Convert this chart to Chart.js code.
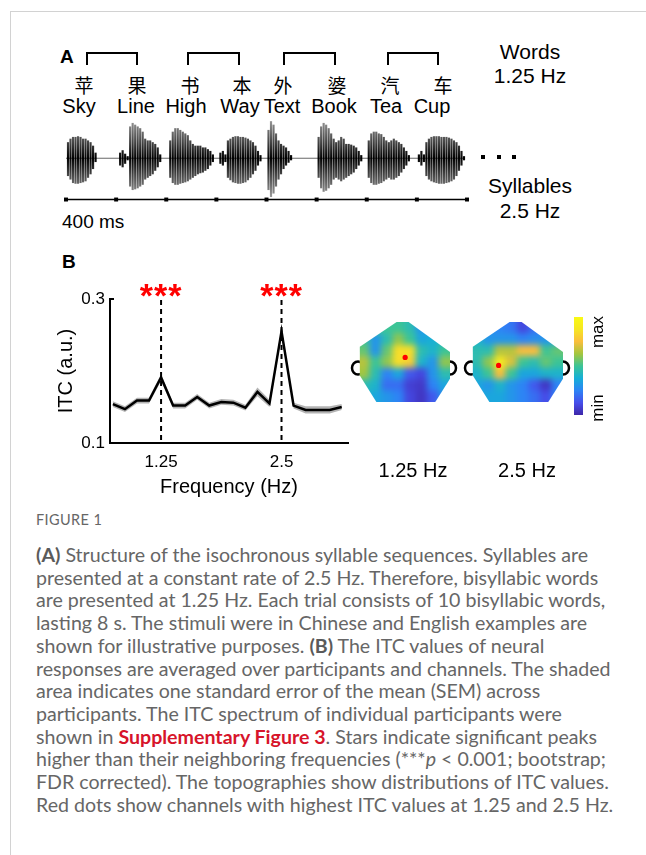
<!DOCTYPE html>
<html>
<head>
<meta charset="utf-8">
<script src="https://cdn.jsdelivr.net/npm/chart.js@4.4.1/dist/chart.umd.min.js"></script>
<style>
html, body { margin: 0; padding: 0; background: #fff; }
body { width: 646px; height: 855px; position: relative; overflow: hidden; font-family: "Liberation Sans", Arial, sans-serif; color: #000; }
.abs { position: absolute; white-space: nowrap; line-height: 1; }
.c { transform: translate(-50%, -50%); }
.frame { position: absolute; left: 10px; top: 11px; width: 700px; height: 900px; border-left: 1.5px solid #d2d2d2; border-top: 1.5px solid #d2d2d2; }
.zh { font-family: "Noto Sans CJK SC", sans-serif; font-size: 19px; }
.en { font-size: 20px; }
.br { position: absolute; box-sizing: border-box; border: 2px solid #000; border-bottom: none; height: 13px; top: 52px; }
.dot { position: absolute; width: 4px; height: 4px; background: #000; top: 155px; }
canvas { position: absolute; }
.cap { position: absolute; left: 36px; top: 544px; font-family: Lato, "Open Sans", sans-serif; font-size: 19.6px; line-height: 22.7px; color: #666; white-space: nowrap; }
.cap b { font-weight: 700; color: #5a5a5a; }
.cap .red { color: #d7142a; font-weight: 700; }
.cbar { position: absolute; left: 574px; top: 317px; width: 9px; height: 98px; }
.rot { transform: translate(-50%, -50%) rotate(-90deg); font-size: 17px; font-family: "Liberation Sans", Arial, sans-serif; }
</style>
</head>
<body>
<div class="frame"></div>

<!-- Panel A -->
<div class="abs" style="left:60px;top:47px;font-size:19px;font-weight:bold;">A</div>
<div class="br" style="left:86px;width:52px;"></div>
<div class="br" style="left:187px;width:53px;"></div>
<div class="br" style="left:283px;width:53px;"></div>
<div class="br" style="left:387px;width:52px;"></div>

<div class="abs c zh" style="left:84px;top:84px;">苹</div>
<div class="abs c zh" style="left:137px;top:84px;">果</div>
<div class="abs c zh" style="left:190px;top:84px;">书</div>
<div class="abs c zh" style="left:242px;top:84px;">本</div>
<div class="abs c zh" style="left:283px;top:84px;">外</div>
<div class="abs c zh" style="left:337px;top:84px;">婆</div>
<div class="abs c zh" style="left:390px;top:84px;">汽</div>
<div class="abs c zh" style="left:443px;top:84px;">车</div>

<div class="abs c en" style="left:79px;top:106px;">Sky</div>
<div class="abs c en" style="left:136px;top:106px;">Line</div>
<div class="abs c en" style="left:186px;top:106px;">High</div>
<div class="abs c en" style="left:240px;top:106px;">Way</div>
<div class="abs c en" style="left:282px;top:106px;">Text</div>
<div class="abs c en" style="left:334px;top:106px;">Book</div>
<div class="abs c en" style="left:386px;top:106px;">Tea</div>
<div class="abs c en" style="left:432px;top:106px;">Cup</div>

<div class="abs c" style="left:530px;top:51px;font-size:21px;">Words</div>
<div class="abs c" style="left:530px;top:75px;font-size:21px;">1.25 Hz</div>
<div class="abs c" style="left:530px;top:185px;font-size:21px;">Syllables</div>
<div class="abs c" style="left:530px;top:210px;font-size:21px;">2.5 Hz</div>
<div class="dot" style="left:481px;"></div>
<div class="dot" style="left:497px;"></div>
<div class="dot" style="left:512px;"></div>
<div class="abs" style="left:62px;top:212px;font-size:19px;">400 ms</div>

<canvas id="wave" width="420" height="98" style="left:56px;top:112px;"></canvas>

<!-- Panel B -->
<div class="abs" style="left:62px;top:252px;font-size:19px;font-weight:bold;">B</div>
<canvas id="itc" width="310" height="229" style="left:50px;top:270px;"></canvas>
<canvas id="topo1" width="118" height="88" style="left:345px;top:318px;"></canvas>
<canvas id="topo2" width="118" height="88" style="left:458px;top:318px;"></canvas>
<div class="cbar" id="cbar"></div>
<div class="abs rot" style="left:597px;top:332px;">max</div>
<div class="abs rot" style="left:597px;top:408px;">min</div>
<div class="abs c" style="left:413px;top:470px;font-size:20px;">1.25 Hz</div>
<div class="abs c" style="left:527px;top:470px;font-size:20px;">2.5 Hz</div>

<!-- Caption -->
<div class="abs" style="left:36px;top:513px;font-family:Lato,sans-serif;font-size:14.5px;color:#666;letter-spacing:0.4px;">FIGURE 1</div>
<div class="cap">
<b>(A)</b> Structure of the isochronous syllable sequences. Syllables are<br>
presented at a constant rate of 2.5 Hz. Therefore, bisyllabic words<br>
are presented at 1.25 Hz. Each trial consists of 10 bisyllabic words,<br>
lasting 8 s. The stimuli were in Chinese and English examples are<br>
shown for illustrative purposes. <b>(B)</b> The ITC values of neural<br>
responses are averaged over participants and channels. The shaded<br>
area indicates one standard error of the mean (SEM) across<br>
participants. The ITC spectrum of individual participants were<br>
shown in <span class="red">Supplementary Figure 3</span>. Stars indicate significant peaks<br>
higher than their neighboring frequencies (***<i>p</i> &lt; 0.001; bootstrap;<br>
FDR corrected). The topographies show distributions of ITC values.<br>
Red dots show channels with highest ITC values at 1.25 and 2.5 Hz.
</div>

<script>
// ---- data ----
// waveform: syllable onsets (ms) and envelope, one value every 20 ms
const syllableOnsets = [16, 432, 832, 1232, 1616, 2016, 2416, 2816];
const envStep = 20;
const envUpper = [
  [0.45, 0.55, 0.6, 0.6, 0.62, 0.6, 0.55, 0.55, 0.5, 0.45, 0.35, 0.15],
  [0.15, 0.22, 0.12, 0.05, 0.9, 1.0, 0.95, 0.9, 0.85, 0.75, 0.55, 0.5, 0.5, 0.45, 0.4, 0.3, 0.1],
  [0.5, 0.75, 0.85, 0.85, 0.8, 0.75, 0.7, 0.65, 0.5, 0.4, 0.35, 0.35, 0.35, 0.3, 0.3, 0.25, 0.2, 0.1],
  [0.15, 0.2, 0.1, 0.5, 0.55, 0.6, 0.62, 0.62, 0.6, 0.6, 0.58, 0.55, 0.5, 0.45, 0.35, 0.2, 0.08],
  [0.8, 1.05, 0.95, 0.7, 0.5, 0.4, 0.35, 0.3, 0.2, 0.08],
  [0.6, 0.9, 1.0, 0.95, 0.85, 0.7, 0.55, 0.45, 0.5, 0.6, 0.55, 0.4, 0.4, 0.38, 0.35, 0.3, 0.2, 0.08],
  [0.5, 0.7, 0.75, 0.75, 0.7, 0.68, 0.6, 0.5, 0.45, 0.5, 0.55, 0.5, 0.45, 0.4, 0.3, 0.2, 0.08],
  [0.1, 0.2, 0.1, 0.45, 0.55, 0.6, 0.62, 0.62, 0.62, 0.6, 0.6, 0.6, 0.58, 0.55, 0.5, 0.45, 0.35, 0.2, 0.05]
];
const envLower = [
  [0.5, 0.6, 0.7, 0.72, 0.72, 0.7, 0.68, 0.65, 0.55, 0.45, 0.3, 0.1],
  [0.2, 0.25, 0.15, 0.05, 0.8, 0.9, 0.88, 0.85, 0.8, 0.75, 0.6, 0.55, 0.5, 0.45, 0.35, 0.25, 0.1],
  [0.55, 0.7, 0.75, 0.75, 0.72, 0.7, 0.68, 0.65, 0.6, 0.55, 0.5, 0.45, 0.42, 0.4, 0.35, 0.3, 0.2, 0.1],
  [0.15, 0.2, 0.1, 0.55, 0.62, 0.68, 0.7, 0.72, 0.72, 0.7, 0.68, 0.62, 0.55, 0.45, 0.35, 0.2, 0.08],
  [0.9, 1.1, 1.0, 0.8, 0.6, 0.45, 0.3, 0.2, 0.12, 0.05],
  [0.55, 0.85, 0.95, 0.92, 0.85, 0.75, 0.6, 0.55, 0.6, 0.65, 0.6, 0.55, 0.5, 0.45, 0.4, 0.3, 0.2, 0.08],
  [0.55, 0.7, 0.75, 0.75, 0.72, 0.7, 0.65, 0.6, 0.55, 0.6, 0.6, 0.55, 0.5, 0.4, 0.3, 0.2, 0.08],
  [0.1, 0.2, 0.1, 0.5, 0.6, 0.65, 0.68, 0.7, 0.72, 0.72, 0.72, 0.7, 0.68, 0.65, 0.6, 0.5, 0.35, 0.2, 0.05]
];
const timeTicks = [0, 400, 800, 1200, 1600, 2000, 2400, 2800, 3200];

// ITC spectrum
const freqs = [0.75, 0.875, 1.0, 1.125, 1.25, 1.375, 1.5, 1.625, 1.75, 1.875, 2.0, 2.125, 2.25, 2.375, 2.5, 2.625, 2.75, 2.875, 3.0, 3.125];
const itcMean = [0.154, 0.147, 0.159, 0.159, 0.191, 0.152, 0.152, 0.164, 0.152, 0.157, 0.156, 0.149, 0.171, 0.155, 0.255, 0.152, 0.146, 0.146, 0.146, 0.150];
const itcSem = [0.004, 0.004, 0.004, 0.004, 0.005, 0.004, 0.004, 0.004, 0.004, 0.004, 0.004, 0.004, 0.006, 0.005, 0.006, 0.004, 0.005, 0.005, 0.005, 0.004];
const peakFreqs = [1.25, 2.5];
const xTicks = [1.25, 2.5];
const yTicks = [0.1, 0.3];

// topographies, 0 = min, 1 = max (7 rows x 8 columns, front at top)
const topo125 = [
  [0.5, 0.5, 0.5, 0.5, 0.45, 0.3, 0.35, 0.4],
  [0.5, 0.3, 0.45, 0.6, 0.5, 0.35, 0.38, 0.42],
  [0.55, 0.3, 0.55, 0.85, 0.85, 0.45, 0.4, 0.5],
  [0.65, 0.5, 0.6, 0.85, 0.8, 0.4, 0.3, 0.6],
  [0.62, 0.45, 0.25, 0.35, 0.15, 0.1, 0.3, 0.45],
  [0.45, 0.4, 0.2, 0.2, 0.08, 0.06, 0.25, 0.35],
  [0.4, 0.35, 0.3, 0.25, 0.1, 0.05, 0.15, 0.3]
];
const topo25 = [
  [0.28, 0.28, 0.25, 0.22, 0.1, 0.2, 0.25, 0.28],
  [0.4, 0.3, 0.3, 0.3, 0.25, 0.28, 0.3, 0.35],
  [0.45, 0.45, 0.65, 0.65, 0.75, 0.75, 0.5, 0.55],
  [0.45, 0.6, 0.9, 0.7, 0.5, 0.45, 0.55, 0.5],
  [0.4, 0.5, 0.75, 0.5, 0.35, 0.35, 0.4, 0.4],
  [0.35, 0.3, 0.4, 0.3, 0.25, 0.15, 0.05, 0.25],
  [0.35, 0.35, 0.35, 0.3, 0.25, 0.2, 0.12, 0.25]
];
const peak125 = [{ x: 4.1, y: 3.1 }];
const peak25 = [{ x: 2.4, y: 3.8 }];

// ---- helpers ----
Chart.defaults.font.family = '"Liberation Sans", Arial, sans-serif';
Chart.defaults.color = '#000';

const PARULA = [
  [0, [62, 38, 168]], [0.125, [70, 78, 235]], [0.25, [45, 132, 245]], [0.375, [22, 175, 215]],
  [0.5, [60, 196, 150]], [0.625, [165, 198, 62]], [0.75, [250, 190, 60]], [0.875, [246, 230, 35]], [1, [249, 250, 20]]
];
function parula(v) {
  v = Math.max(0, Math.min(1, v));
  for (let i = 1; i < PARULA.length; i++) {
    if (v <= PARULA[i][0]) {
      const [a, ca] = PARULA[i - 1], [b, cb] = PARULA[i];
      const t = (v - a) / (b - a);
      return 'rgb(' + ca.map((c, k) => Math.round(c + (cb[k] - c) * t)).join(',') + ')';
    }
  }
  return 'rgb(249,250,20)';
}
document.getElementById('cbar').style.background =
  'linear-gradient(to top,' + PARULA.map(p => parula(p[0]) + ' ' + (p[0] * 100) + '%').join(',') + ')';

const noUi = { legend: { display: false }, tooltip: { enabled: false } };

// ---- waveform ----
const waveBars = [];
syllableOnsets.forEach((t0, s) => {
  envUpper[s].forEach((u, i) => {
    waveBars.push({ x: t0 + i * envStep, y: [-envLower[s][i], u] });
  });
});

let waveGrad = null;
function waveColor(ctx) {
  const chart = ctx.chart;
  if (!chart.chartArea) return '#333';
  if (!waveGrad) {
    const y0 = chart.scales.y.getPixelForValue(0);
    waveGrad = chart.ctx.createLinearGradient(0, y0 - 40, 0, y0 + 40);
    waveGrad.addColorStop(0, '#a0a0a0');
    waveGrad.addColorStop(0.3, '#444');
    waveGrad.addColorStop(0.5, '#000');
    waveGrad.addColorStop(0.7, '#444');
    waveGrad.addColorStop(1, '#a0a0a0');
  }
  return waveGrad;
}

const baseline = {
  id: 'baseline',
  beforeDatasetsDraw(chart) {
    const { ctx, scales: { x, y } } = chart;
    const py = y.getPixelForValue(0);
    ctx.save();
    ctx.strokeStyle = '#666';
    ctx.lineWidth = 1;
    ctx.beginPath();
    ctx.moveTo(x.getPixelForValue(0), py);
    ctx.lineTo(x.getPixelForValue(3200) - 2, py);
    ctx.stroke();
    ctx.restore();
  }
};

new Chart(document.getElementById('wave'), {
  type: 'bar',
  data: {
    datasets: [
      {
        type: 'line',
        data: timeTicks.map(t => ({ x: t, y: -1.18 })),
        borderColor: '#000', borderWidth: 1.5,
        pointStyle: 'rect', pointRadius: 2.8, pointBackgroundColor: '#000', pointBorderWidth: 0,
        clip: false
      },
      {
        data: waveBars,
        backgroundColor: waveColor,
        barThickness: 1.5,
        grouped: false,
        clip: false
      }
    ]
  },
  options: {
    responsive: false, animation: false, events: [],
    layout: { padding: { left: 10, right: 9, top: 0, bottom: 0 } },
    plugins: noUi,
    scales: {
      x: { type: 'linear', min: 0, max: 3200, offset: false, display: false },
      y: { min: -1.365, max: 1.207, display: false }
    }
  },
  plugins: [baseline]
});

// ---- ITC spectrum ----
const xy = vals => freqs.map((f, i) => ({ x: f, y: vals[i] }));
const semUpper = itcMean.map((m, i) => m + itcSem[i]);
const semLower = itcMean.map((m, i) => m - itcSem[i]);

const peaks = {
  id: 'peaks',
  afterDatasetsDraw(chart) {
    const { ctx, chartArea: a, scales: { x, y } } = chart;
    ctx.save();
    ctx.strokeStyle = '#000';
    ctx.lineWidth = 2;
    ctx.setLineDash([5, 4]);
    peakFreqs.forEach(f => {
      const px = x.getPixelForValue(f);
      ctx.beginPath();
      ctx.moveTo(px, a.top + 1);
      ctx.lineTo(px, a.bottom);
      ctx.stroke();
    });
    ctx.setLineDash([]);
    // inward y ticks
    yTicks.forEach(v => {
      const py = y.getPixelForValue(v);
      ctx.beginPath();
      ctx.moveTo(a.left, py);
      ctx.lineTo(a.left + 4, py);
      ctx.stroke();
    });
    ctx.fillStyle = '#ff0000';
    ctx.font = 'bold 34px "Liberation Sans", Arial, sans-serif';
    ctx.textAlign = 'center';
    ctx.textBaseline = 'alphabetic';
    ctx.letterSpacing = '1px';
    peakFreqs.forEach(f => {
      ctx.fillText('***', x.getPixelForValue(f), a.top + 8);
    });
    ctx.restore();
  }
};

new Chart(document.getElementById('itc'), {
  type: 'line',
  data: {
    datasets: [
      { data: xy(itcMean), borderColor: '#000', borderWidth: 2.5, pointRadius: 0, fill: false, tension: 0 },
      { data: xy(semUpper), borderWidth: 0, pointRadius: 0, backgroundColor: '#b4b4b4', fill: '+1' },
      { data: xy(semLower), borderWidth: 0, pointRadius: 0, fill: false }
    ]
  },
  options: {
    responsive: false, animation: false, events: [],
    layout: { padding: { top: 29, right: 12, left: 0, bottom: 0 } },
    plugins: noUi,
    scales: {
      x: {
        type: 'linear', min: 0.72, max: 3.19,
        afterBuildTicks: s => { s.ticks = xTicks.map(v => ({ value: v })); },
        afterFit: s => { s.height = 56; },
        ticks: { font: { size: 17 }, padding: 9, color: '#000', callback: v => String(v) },
        grid: { display: false, drawTicks: false },
        border: { display: true, color: '#000', width: 2 },
        title: { display: true, text: 'Frequency (Hz)', font: { size: 20 }, color: '#000', padding: 0 }
      },
      y: {
        min: 0.1, max: 0.3,
        afterBuildTicks: s => { s.ticks = yTicks.map(v => ({ value: v })); },
        afterFit: s => { s.width = 60; },
        ticks: { font: { size: 17 }, padding: 5, color: '#000', callback: v => v.toFixed(1) },
        grid: { display: false, drawTicks: false },
        border: { display: true, color: '#000', width: 2 },
        title: { display: true, text: 'ITC (a.u.)', font: { size: 20 }, color: '#000', padding: { top: 4, bottom: 0 } }
      }
    }
  },
  plugins: [peaks]
});

// ---- topographies ----
const HEAD = [[0.42, 0], [0.55, 0], [1, 0.375], [1, 0.71], [0.84, 1], [0.2, 1], [0.02, 0.67], [0.02, 0.31]];
const topoPlugin = {
  id: 'topo',
  beforeDatasetsDraw(chart) {
    const { ctx, chartArea: a, scales: { x, y } } = chart;
    const grid = chart.options.plugins.topo.grid;
    const rows = grid.length, cols = grid[0].length;
    const w = a.right - a.left, h = a.bottom - a.top;
    // ears
    ctx.save();
    ctx.lineWidth = 2.5;
    ctx.strokeStyle = '#000';
    const ey = a.top + 0.575 * h;
    [a.left, a.right].forEach(ex => {
      ctx.beginPath();
      ctx.ellipse(ex, ey, 6, 6.5, 0, 0, Math.PI * 2);
      ctx.stroke();
    });
    // head outline clip
    ctx.beginPath();
    HEAD.forEach(([u, v], i) => {
      const px = a.left + u * w, py = a.top + v * h;
      if (i) ctx.lineTo(px, py); else ctx.moveTo(px, py);
    });
    ctx.closePath();
    ctx.fillStyle = '#fff';
    ctx.fill();
    ctx.clip();
    // cells on an offscreen canvas, then smoothed
    const m = 12;
    const off = document.createElement('canvas');
    off.width = w + 2 * m; off.height = h + 2 * m;
    const oc = off.getContext('2d');
    grid.forEach((row, r) => row.forEach((v, c) => {
      const x0 = x.getPixelForValue(c === 0 ? -1 : c), x1 = x.getPixelForValue(c === cols - 1 ? cols + 1 : c + 1);
      const y0 = y.getPixelForValue(r === 0 ? -1 : r), y1 = y.getPixelForValue(r === rows - 1 ? rows + 1 : r + 1);
      oc.fillStyle = parula(v);
      oc.fillRect(x0 - a.left + m, y0 - a.top + m, x1 - x0 + 0.5, y1 - y0 + 0.5);
    }));
    ctx.filter = 'blur(3px)';
    ctx.drawImage(off, a.left - m, a.top - m);
    ctx.restore();
  }
};

function topoChart(id, grid, peak) {
  new Chart(document.getElementById(id), {
    type: 'scatter',
    data: { datasets: [{ data: peak, pointRadius: 2.6, pointBackgroundColor: '#ff0000', pointBorderWidth: 0 }] },
    options: {
      responsive: false, animation: false, events: [],
      layout: { padding: { left: 13, right: 13, top: 4, bottom: 4 } },
      plugins: { legend: { display: false }, tooltip: { enabled: false }, topo: { grid: grid } },
      scales: {
        x: { type: 'linear', min: 0, max: grid[0].length, display: false },
        y: { type: 'linear', min: 0, max: grid.length, reverse: true, display: false }
      }
    },
    plugins: [topoPlugin]
  });
}
topoChart('topo1', topo125, peak125);
topoChart('topo2', topo25, peak25);
</script>
</body>
</html>
